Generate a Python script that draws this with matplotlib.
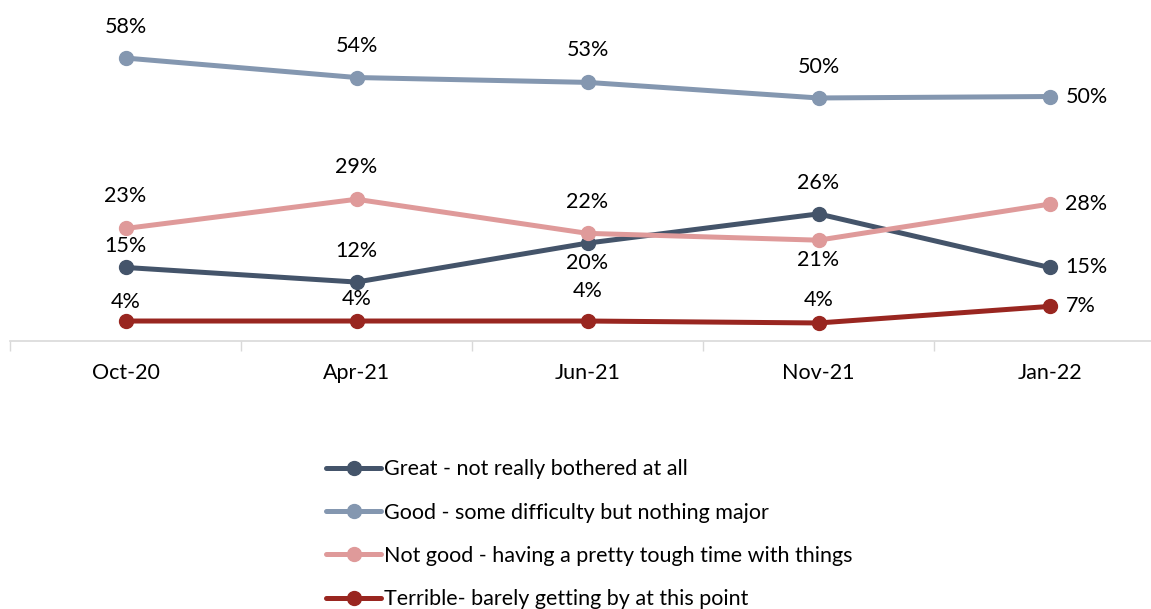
import matplotlib
matplotlib.use("Agg")
from matplotlib import pyplot as plt

# chart data
categories = ["Oct-20", "Apr-21", "Jun-21", "Nov-21", "Jan-22"]
series_names = [
    "Great - not really bothered at all",
    "Good - some difficulty but nothing major",
    "Not good - having a pretty tough time with things",
    "Terrible- barely getting by at this point",
]
great = [15, 12, 20, 26, 15]
good = [58, 54, 53, 49.8, 50.1]
not_good = [23, 29, 22, 20.6, 28]
terrible = [4, 4, 4, 3.6, 7]

colors = ["#44546a", "#8497b0", "#df9a9a", "#992620"]
# vertical label offset in pixels (positive = above); None = label to the right
label_offsets = [
    [21, 31, -20, 31, None],
    [31, 32, 32, 31, None],
    [32, 32, 31, -20, None],
    [19, 22, 30, 23, None],
]

plt.rcParams["font.family"] = ["Lato", "DejaVu Sans"]
fs = 15.5
px = 72 / 100  # pixels -> points

fig = plt.figure(figsize=(11.51, 6.09), dpi=100)
ax = fig.add_axes([10 / 1151, 1 - 340.5 / 609, 1155 / 1151, 292.2 / 609])

x = list(range(len(categories)))
all_series = [great, good, not_good, terrible]
for vals, name, col, offs in zip(all_series, series_names, colors, label_offsets):
    ax.plot(x, vals, color=col, linewidth=3.6, marker="o", markersize=10,
            label=name, solid_capstyle="round", clip_on=False, zorder=3)
    for xi, v, off in zip(x, vals, offs):
        txt = f"{v:.0f}%"
        if off is None:
            ax.annotate(txt, (xi, v), xytext=(16 * px, 0), textcoords="offset points",
                        ha="left", va="center", fontsize=fs)
        else:
            ax.annotate(txt, (xi, v), xytext=(0, off * px), textcoords="offset points",
                        ha="center", va="center", fontsize=fs)

ax.set_xlim(-0.5, 4.5)
ax.set_ylim(0, 60)
ax.set_yticks([])
ax.set_xticks(x)
ax.set_xticklabels(categories, fontsize=fs)
ax.set_xticks([i - 0.5 for i in range(6)], minor=True)
ax.tick_params(axis="x", which="major", length=0, pad=16)
ax.tick_params(axis="x", which="minor", length=7, color="#d9d9d9", width=1)
for s in ["top", "right", "left"]:
    ax.spines[s].set_visible(False)
ax.spines["bottom"].set_color("#d9d9d9")
ax.spines["bottom"].set_linewidth(1.2)

fig.legend(loc="upper left", bbox_to_anchor=(307 / 1151, 1 - 440 / 609),
           frameon=False, fontsize=fs, handlelength=2.55, handletextpad=0.12,
           labelspacing=1.08)

fig.savefig("out.png", dpi=100)
